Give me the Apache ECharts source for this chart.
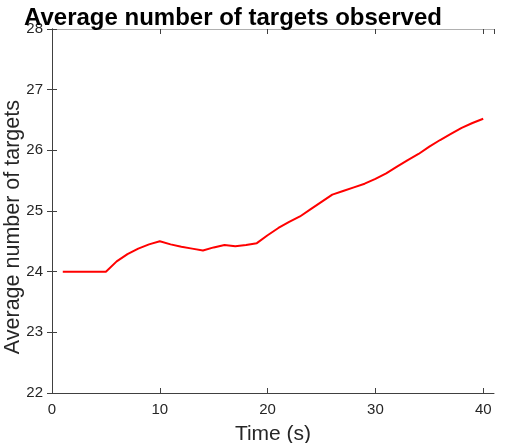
<!DOCTYPE html>
<html>
<head>
<meta charset="utf-8">
<script src="https://cdn.jsdelivr.net/npm/echarts@6/dist/echarts.min.js"></script>
<style>
  html, body { margin: 0; padding: 0; background: #fff; }
  #chart { width: 517px; height: 443px; }
</style>
</head>
<body>
<div id="chart"></div>
<script>
// time in seconds, average number of targets observed
var times = [1, 2, 3, 4, 5, 6, 7, 8, 9, 10, 11, 12, 13, 14, 15, 16, 17, 18, 19, 20,
             21, 22, 23, 24, 25, 26, 27, 28, 29, 30, 31, 32, 33, 34, 35, 36, 37, 38, 39, 40];
var avgTargets = [24, 24, 24, 24, 24, 24.17, 24.29, 24.38, 24.45, 24.50,
                  24.45, 24.41, 24.38, 24.35, 24.40, 24.44, 24.42, 24.44, 24.47, 24.60,
                  24.72, 24.82, 24.91, 25.03, 25.15, 25.27, 25.33, 25.39, 25.45, 25.53,
                  25.62, 25.73, 25.84, 25.94, 26.06, 26.17, 26.27, 26.37, 26.45, 26.52];
var xTicks = [0, 10, 20, 30, 40];
var yTicks = [22, 23, 24, 25, 26, 27, 28];

var pts = times.map(function (t, i) { return [t, avgTargets[i]]; });

var chart = echarts.init(document.getElementById('chart'));
var fam = 'Liberation Sans, Arial, sans-serif';
var tickFont = { fontFamily: fam, fontSize: 15, color: '#262626' };
var axisLine = { show: true, lineStyle: { color: '#404040', width: 1 } };
var tick = { show: true, inside: true, length: 5, lineStyle: { color: '#404040' } };

var option = {
    animation: false,
    title: {
        text: 'Average number of targets observed',
        left: 19, top: 1,
        textStyle: { fontFamily: fam, fontSize: 24, fontWeight: 'bold', color: '#000' }
    },
    // y axis title, MATLAB places it a bit below the axes centre
    graphic: [{
        type: 'text', left: 2, top: 100,
        style: { text: 'Average number of targets', font: '21.5px Liberation Sans, Arial, sans-serif', fill: '#262626' },
        rotation: Math.PI / 2,
        originX: 0, originY: 0
    }],
    grid: { left: 52, right: 23, top: 29, bottom: 50, containLabel: false, outerBoundsMode: 'none' },
    xAxis: [{
        type: 'value', min: 0, max: 41, interval: 10,
        axisLine: axisLine, axisTick: tick, splitLine: { show: false },
        axisLabel: Object.assign({ margin: 9, showMaxLabel: false, formatter: function (v) { return xTicks.indexOf(v) >= 0 ? v : ''; } }, tickFont),
        name: 'Time (s)', nameLocation: 'middle', nameGap: 31,
        nameTextStyle: { fontFamily: fam, fontSize: 21, color: '#262626' }
    }, {
        type: 'value', min: 0, max: 41, interval: 10, position: 'top',
        axisLine: { show: true, lineStyle: { color: '#b0b0b0', width: 1 } },
        axisTick: tick, axisLabel: { show: false }, splitLine: { show: false }
    }],
    yAxis: [{
        type: 'value', min: 22, max: 28, interval: 1,
        axisLine: axisLine, axisTick: tick, splitLine: { show: false },
        axisLabel: Object.assign({ margin: 9, formatter: function (v) { return yTicks.indexOf(v) >= 0 ? v : ''; } }, tickFont)
    }, {
        type: 'value', min: 22, max: 28, interval: 1, position: 'right',
        axisLine: axisLine, axisTick: tick, axisLabel: { show: false }, splitLine: { show: false }
    }],
    series: [{
        type: 'line',
        data: pts,
        showSymbol: false,
        lineStyle: { color: '#ff0000', width: 2 },
        itemStyle: { color: '#ff0000' }
    }]
};
chart.setOption(option);
</script>
</body>
</html>
